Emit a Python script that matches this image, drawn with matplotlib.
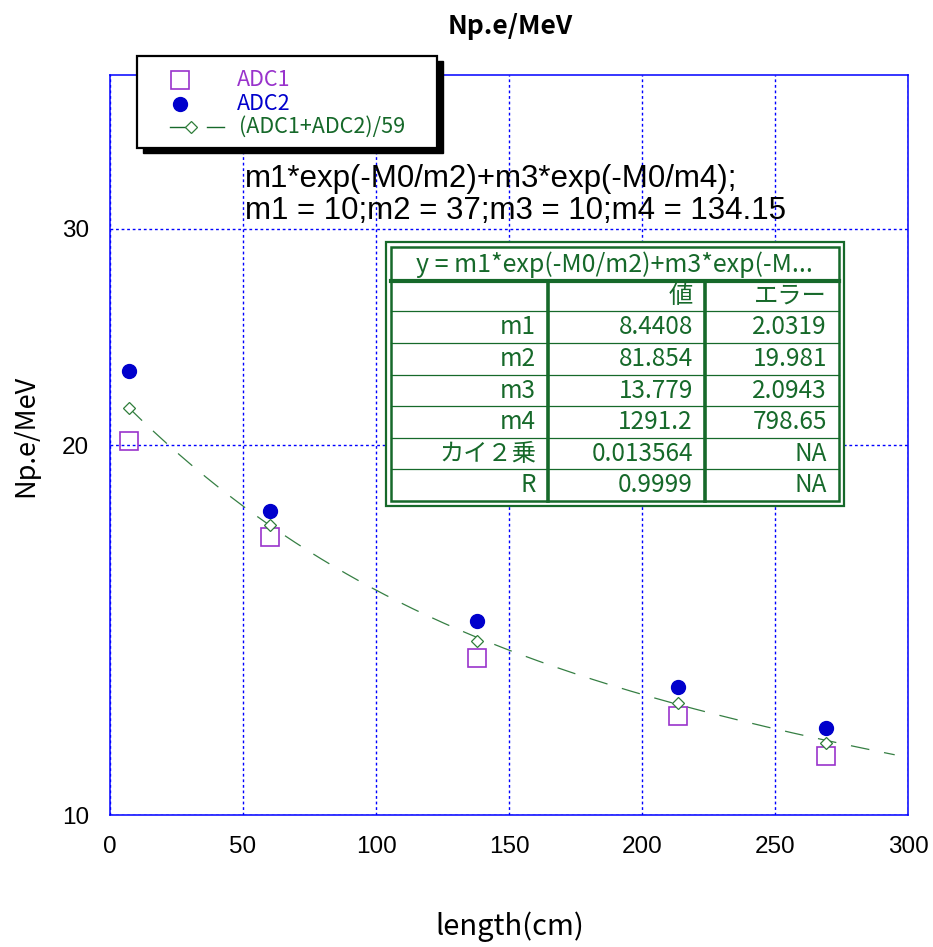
import numpy as np
import matplotlib
matplotlib.use("Agg")
import matplotlib.pyplot as plt
from matplotlib.patches import Rectangle
from matplotlib.ticker import NullLocator

# data
length_cm = [7, 60, 138, 213.5, 269]
adc1 = [20.14, 16.82, 13.42, 12.04, 11.16]
adc2 = [22.98, 17.68, 14.38, 12.71, 11.78]
adc_sum = [21.44, 17.21, 13.86, 12.33, 11.44]

# fit result table
fit_title = "y = m1*exp(-M0/m2)+m3*exp(-M..."
fit_header = ["", "値", "エラー"]
fit_names = ["m1", "m2", "m3", "m4", "カイ２乗", "R"]
fit_values = ["8.4408", "81.854", "13.779", "1291.2", "0.013564", "0.9999"]
fit_errors = ["2.0319", "19.981", "2.0943", "798.65", "NA", "NA"]
m1, m2, m3, m4 = 8.4408, 81.854, 13.779, 1291.2
fit_x_end = 295

x_ticks = [0, 50, 100, 150, 200, 250, 300]
y_ticks = [10, 20, 30]

JP = "Noto Sans CJK JP"
SANS = "Liberation Sans"
PURPLE = "#9933CC"
BLUE = "#0000CC"
GREEN = "#16692A"
GRID = "#0000FF"

W, H = 933, 947
fig = plt.figure(figsize=(W / 100, H / 100), dpi=100)
ax = fig.add_axes([110 / W, 1 - 815 / H, 798 / W, 740 / H])

# fit curve from the table parameters
x_fit = np.linspace(length_cm[0], fit_x_end, 300)
y_fit = m1 * np.exp(-x_fit / m2) + m3 * np.exp(-x_fit / m4)
ax.plot(x_fit, y_fit, color="#357F43", lw=0.9, ls=(0, (15, 12)), zorder=3)

ax.plot(length_cm, adc1, ls="none", marker="s", ms=13, mfc="none",
        mec=PURPLE, mew=1.2, zorder=4)
ax.plot(length_cm, adc2, ls="none", marker="o", ms=10, color=BLUE,
        mec=BLUE, zorder=4)
ax.plot(length_cm, adc_sum, ls="none", marker="D", ms=6.5, mfc="white",
        mec="#2E7D3A", mew=0.9, zorder=5)

ax.set_yscale("log")
ax.set_xlim(0, 300)
ax.set_ylim(10, 40)
ax.set_xticks(x_ticks)
ax.set_xticklabels([str(t) for t in x_ticks])
ax.set_yticks(y_ticks)
ax.set_yticklabels([str(t) for t in y_ticks])
ax.yaxis.set_minor_locator(NullLocator())
ax.tick_params(length=0, pad=15, labelsize=17.5)
for lab in ax.get_xticklabels() + ax.get_yticklabels():
    lab.set_fontfamily(SANS)
ax.grid(True, color=GRID, ls=(0, (2, 2)), lw=1.0)
for sp in ax.spines.values():
    sp.set_color(GRID)
    sp.set_linewidth(1.1)

# overlay in pixel coordinates for texts, legend and table
ov = fig.add_axes([0, 0, 1, 1], zorder=5)
ov.set_xlim(0, W)
ov.set_ylim(H, 0)
ov.axis("off")
ov.patch.set_alpha(0)

ov.text(510, 26, "Np.e/MeV", fontsize=19, fontweight="bold", family=JP,
        ha="center", va="center")
ov.text(26, 436, "Np.e/MeV", fontsize=19.5, family=JP, rotation=90,
        ha="center", va="center")
ov.text(510, 927, "length(cm)", fontsize=21, family=JP,
        ha="center", va="center")

# legend box with shadow
ov.add_patch(Rectangle((143, 61), 300, 92, color="black", zorder=1))
ov.add_patch(Rectangle((137, 56), 300, 92, facecolor="white",
                       edgecolor="black", lw=1.6, zorder=2))
ov.plot([180], [80], marker="s", ms=13, mfc="none", mec=PURPLE, mew=1.2, zorder=3)
ov.plot([180], [104], marker="o", ms=10, color=BLUE, zorder=3)
ov.plot([170, 188], [127, 127], color=GREEN, lw=1, zorder=3)
ov.plot([207, 224], [127, 127], color=GREEN, lw=1, zorder=3)
ov.plot([191], [127], marker="D", ms=6.5, mfc="white", mec="#2E7D3A", mew=0.9, zorder=3)
ov.text(237, 80, "ADC1", color=PURPLE, fontsize=15.5, family=JP, va="center", zorder=3)
ov.text(237, 104, "ADC2", color=BLUE, fontsize=15.5, family=JP, va="center", zorder=3)
ov.text(239, 127, "(ADC1+ADC2)/59", color=GREEN, fontsize=15.5, family=JP,
        va="center", zorder=3)

# fit formula annotation
ov.text(245, 187, "m1*exp(-M0/m2)+m3*exp(-M0/m4);", fontsize=22.5, family=SANS,
        va="baseline")
ov.text(245, 219, "m1 = 10;m2 = 37;m3 = 10;m4 = 134.15", fontsize=22.5, family=SANS,
        va="baseline")

# fit result table
ov.add_patch(Rectangle((386, 242), 458, 264, facecolor="white",
                       edgecolor=GREEN, lw=1.6, zorder=2))
ov.add_patch(Rectangle((391, 247), 448, 254, facecolor="none",
                       edgecolor=GREEN, lw=1.8, zorder=3))
row_edges = [281, 311, 343, 375, 406, 438, 469, 501]
col_edges = [391, 548, 705, 839]
ov.plot([391, 839], [281, 281], color=GREEN, lw=3, zorder=3)
for yy in row_edges[1:-1]:
    ov.plot([391, 839], [yy, yy], color=GREEN, lw=0.9, zorder=3)
for xx in col_edges[1:3]:
    ov.plot([xx, xx], [281, 501], color=GREEN, lw=2.6, zorder=3)
ov.text(614, 265, fit_title, fontsize=18, family=JP, color=GREEN,
        ha="center", va="center", zorder=4)
rows = [fit_header] + [[n, v, e] for n, v, e in zip(fit_names, fit_values, fit_errors)]
for i, row in enumerate(rows):
    yc = (row_edges[i] + row_edges[i + 1]) / 2
    for j, cell in enumerate(row):
        ov.text(col_edges[j + 1] - 12, yc, cell, fontsize=17.5, family=JP,
                color=GREEN, ha="right", va="center", zorder=4)

fig.savefig("out.png", dpi=100)
